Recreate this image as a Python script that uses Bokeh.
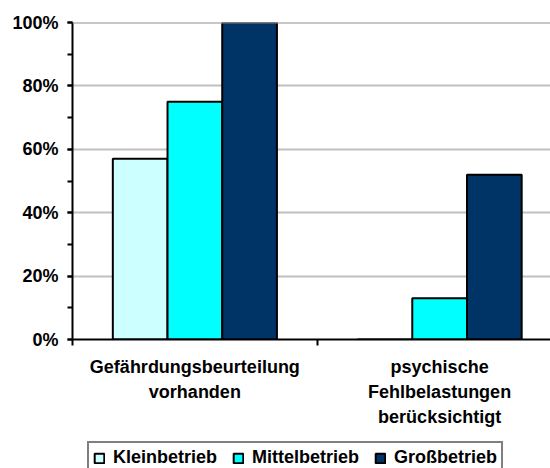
from bokeh.plotting import figure
from bokeh.layouts import column
from bokeh.models import (ColumnDataSource, FixedTicker, Legend, LegendItem, Span, Range1d)
from bokeh.transform import dodge
from bokeh.embed import file_html
from bokeh.resources import INLINE

categories = ["Gefährdungsbeurteilung\nvorhanden", "psychische\nFehlbelastungen\nberücksichtigt"]
series = ["Kleinbetrieb", "Mittelbetrieb", "Großbetrieb"]
klein = [57, 0]
mittel = [75, 13]
gross = [100, 52]
y_ticks = [0, 20, 40, 60, 80, 100]
y_labels = ["0%", "20%", "40%", "60%", "80%", "100%"]
colors = ["#CCFFFF", "#00FFFF", "#003366"]

FONT = "Liberation Sans"

src = ColumnDataSource(dict(
    x=[i + 0.5 for i in range(len(categories))],
    klein=klein, mittel=mittel, gross=gross,
))

p = figure(width=550, height=440, output_backend="svg", toolbar_location=None,
           x_range=Range1d(0, 1.953), y_range=Range1d(0, 100),
           min_border_left=72, min_border_right=0, min_border_top=22,
           min_border_bottom=101)
p.outline_line_color = None
p.background_fill_color = "white"
p.border_fill_color = "white"

bw = 0.2235
renderers = []
for k, (col, c) in enumerate(zip(["klein", "mittel", "gross"], colors)):
    r = p.vbar(x=dodge("x", (k - 1) * bw, range=p.x_range), top=col, width=bw,
               bottom=0, source=src, fill_color=c, line_color="black", line_width=2)
    renderers.append(r)

# y axis
yax = p.yaxis[0]
yax.ticker = FixedTicker(ticks=y_ticks, minor_ticks=list(range(0, 101, 10)))
yax.major_label_overrides = {t: l for t, l in zip(y_ticks, y_labels)}
yax.axis_line_color = "black"
yax.axis_line_width = 2
yax.major_tick_line_width = 2
yax.major_tick_line_color = "black"
yax.major_tick_out = 5
yax.major_tick_in = 0
yax.minor_tick_line_width = 2
yax.minor_tick_line_color = "black"
yax.minor_tick_out = 5
yax.minor_tick_in = 0
yax.major_label_standoff = 9
yax.major_label_text_font = FONT
yax.major_label_text_font_style = "bold"
yax.major_label_text_font_size = "18px"
yax.major_label_text_color = "black"

# x axis
xax = p.xaxis[0]
xax.ticker = FixedTicker(ticks=[i + 0.5 for i in range(len(categories))],
                         minor_ticks=[0, 1, 2])
xax.major_label_overrides = {i + 0.5: c for i, c in enumerate(categories)}
xax.axis_line_color = "black"
xax.axis_line_width = 2
xax.major_tick_line_color = None
xax.minor_tick_line_color = "black"
xax.minor_tick_line_width = 2
xax.minor_tick_out = 6
xax.minor_tick_in = 0
xax.major_label_standoff = 11
xax.major_label_text_font = FONT
xax.major_label_text_font_style = "bold"
xax.major_label_text_font_size = "18px"
xax.major_label_text_color = "black"
xax.major_label_text_line_height = 1.25

# grid
p.xgrid.visible = False
p.ygrid.ticker = FixedTicker(ticks=[20, 40, 60, 80, 100])
p.ygrid.grid_line_color = "#c0c0c0"
p.ygrid.grid_line_width = 2
p.add_layout(Span(location=100, dimension="width", line_color="#909090", line_width=2))

# legend strip (separate figure below the chart)
p2 = figure(width=550, height=28, output_backend="svg", toolbar_location=None,
            min_border_left=72, min_border_right=0, min_border_top=0,
            min_border_bottom=0)
p2.axis.visible = False
p2.grid.visible = False
p2.outline_line_color = None
p2.border_fill_color = "white"
placeholder = ColumnDataSource(dict(x=[float("nan")], top=[float("nan")]))
leg_renderers = [p2.vbar(x="x", top="top", width=1, source=placeholder, fill_color=c,
                         line_color="black", line_width=2) for c in colors]

legend = Legend(items=[LegendItem(label=s, renderers=[r]) for s, r in zip(series, leg_renderers)],
                orientation="horizontal", location=(15, -6))
legend.label_text_font = FONT
legend.label_text_font_style = "bold"
legend.label_text_font_size = "18px"
legend.label_text_color = "black"
legend.glyph_width = 12
legend.glyph_height = 12
legend.label_standoff = 8
legend.spacing = 15
legend.padding = 4
legend.margin = 0
legend.border_line_color = "black"
legend.border_line_width = 2
legend.background_fill_color = "white"
p2.add_layout(legend, "center")

layout = column(p, p2, spacing=0)
open("out.html", "w").write(file_html(layout, INLINE))
